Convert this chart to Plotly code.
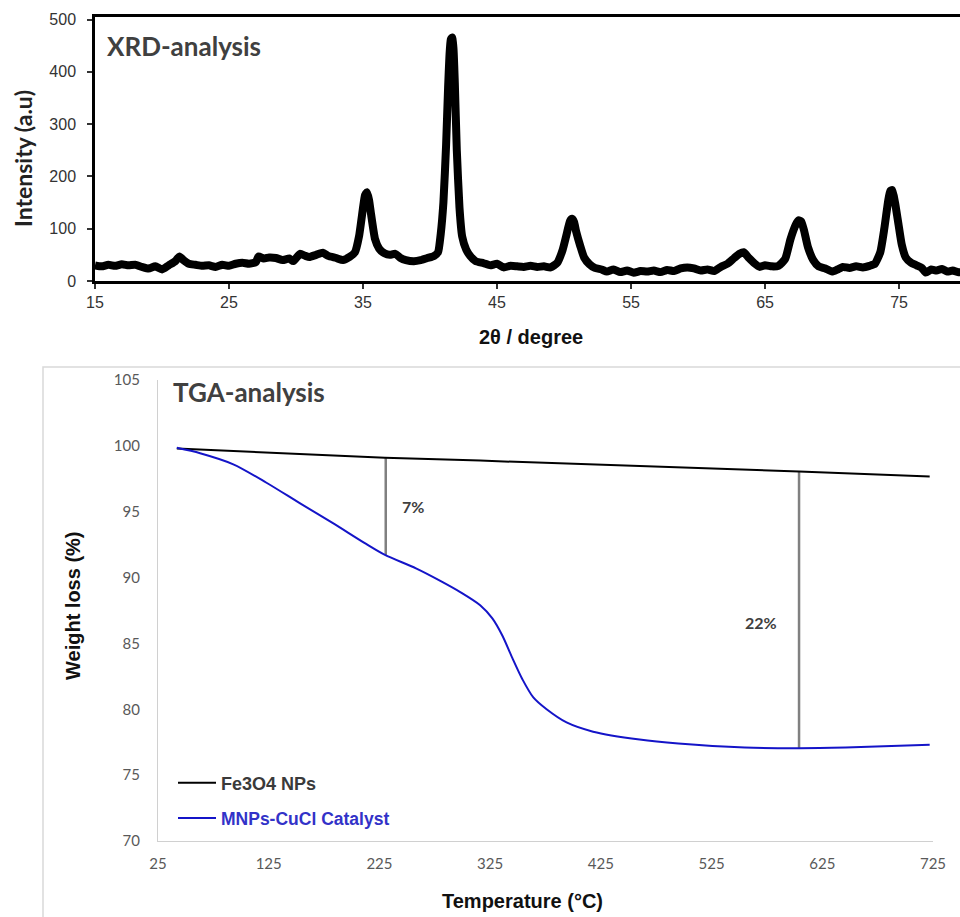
import plotly.graph_objects as go

# ---------------- XRD data ----------------
xrd_2theta = [15.0, 15.5, 16.0, 16.5, 17.0, 17.5, 18.0, 18.5, 19.0, 19.5, 20.0, 20.5, 21.0, 21.3, 21.6,
              22.0, 22.5, 23.0, 23.5, 24.0, 24.5, 25.0, 25.5, 26.0, 26.5, 27.0, 27.2, 27.6, 28.0, 28.5,
              29.0, 29.5, 29.8, 30.3, 30.7, 31.0, 31.5, 32.0, 32.4, 33.0, 33.5, 34.0, 34.4, 34.7, 35.0,
              35.15, 35.3, 35.45, 35.6, 35.9, 36.2, 36.6, 37.0, 37.4, 37.8, 38.2, 38.8, 39.3, 39.8, 40.3,
              40.6, 40.8, 41.0, 41.2, 41.35, 41.45, 41.55, 41.65, 41.75, 41.85, 42.0, 42.2, 42.4, 42.7,
              43.0, 43.4, 44.0, 44.5, 45.0, 45.5, 46.0, 46.5, 47.0, 47.5, 48.0, 48.5, 49.0, 49.5, 49.9,
              50.2, 50.45, 50.6, 50.75, 50.9, 51.2, 51.5, 51.9, 52.3, 52.8, 53.2, 53.7, 54.2, 54.7, 55.2,
              55.7, 56.2, 56.7, 57.2, 57.7, 58.2, 58.7, 59.2, 59.7, 60.2, 60.7, 61.2, 61.7, 62.2, 62.7,
              63.1, 63.4, 63.8, 64.2, 64.6, 65.0, 65.5, 66.0, 66.5, 66.9, 67.3, 67.5, 67.7, 67.9, 68.2,
              68.6, 69.0, 69.5, 70.0, 70.4, 70.8, 71.3, 71.8, 72.3, 72.8, 73.2, 73.6, 73.9, 74.2, 74.35,
              74.5, 74.7, 74.95, 75.2, 75.5, 75.9, 76.3, 76.7, 77.0, 77.4, 77.8, 78.2, 78.6, 79.0, 79.4,
              79.8]
xrd_intensity = [30, 28, 31, 29, 32, 30, 31, 27, 24, 28, 22, 30, 38, 47, 40,
                 33, 31, 29, 30, 27, 31, 29, 33, 35, 33, 36, 47, 43, 45, 44,
                 40, 43, 38, 52, 48, 46, 50, 54, 48, 44, 40, 46, 55, 85, 140,
                 164, 170, 155, 128, 80, 62, 53, 50, 52, 44, 40, 38, 40, 44, 48,
                 55, 90, 150, 260, 370, 430, 462, 466, 445, 380, 250, 140, 85, 60,
                 48, 38, 34, 30, 33, 26, 29, 28, 27, 29, 27, 28, 26, 35, 60,
                 90, 115, 119, 113, 95, 68, 45, 32, 25, 22, 18, 22, 17, 20, 16,
                 19, 18, 20, 17, 21, 19, 24, 26, 24, 20, 22, 19, 27, 33, 44,
                 52, 55, 44, 34, 27, 30, 28, 29, 42, 80, 108, 116, 114, 98, 65,
                 40, 28, 24, 18, 22, 27, 25, 28, 26, 29, 33, 55, 100, 155, 172,
                 174, 150, 110, 70, 45, 35, 30, 25, 16, 22, 20, 23, 18, 20, 17,
                 16]
xrd_xticks = [15, 25, 35, 45, 55, 65, 75]
xrd_yticks = [0, 100, 200, 300, 400, 500]

# ---------------- TGA data ----------------
fe3o4_T = [42, 230, 316, 460, 604, 722]
fe3o4_w = [99.8, 99.1, 98.88, 98.48, 98.05, 97.67]

cat_T = [42, 63, 93, 123, 153, 183, 213, 230, 258, 280, 298, 316, 327, 336, 345, 354, 364, 376,
         394, 418, 460, 495, 555, 604, 646, 722]
cat_w = [99.85, 99.44, 98.6, 97.2, 95.65, 94.13, 92.55, 91.72, 90.7, 89.75, 88.9, 87.9, 86.9, 85.6,
         83.9, 82.3, 80.9, 80.0, 79.0, 78.3, 77.7, 77.4, 77.1, 77.05, 77.1, 77.3]

drop_T = [230.7, 604]
drop_top = [99.1, 98.05]
drop_bottom = [91.72, 77.0]
drop_labels = ["7%", "22%"]
drop_label_T = [255, 570]
drop_label_w = [95.4, 86.6]

tga_xticks = [25, 125, 225, 325, 425, 525, 625, 725]
tga_yticks = [70, 75, 80, 85, 90, 95, 100, 105]

W, H = 960, 917


def px_x(p):
    return p / W


def px_y(p):
    return (H - p) / H


fig = go.Figure()

# XRD trace
fig.add_trace(go.Scatter(
    x=xrd_2theta, y=xrd_intensity, mode="lines",
    line=dict(color="black", width=8, shape="spline", smoothing=0.5), xaxis="x", yaxis="y",
    showlegend=False, hoverinfo="skip"))

# TGA drop lines
dl_x, dl_y = [], []
for t, a, b in zip(drop_T, drop_top, drop_bottom):
    dl_x += [t, t, None]
    dl_y += [a, b, None]
fig.add_trace(go.Scatter(
    x=dl_x, y=dl_y, mode="lines", line=dict(color="#808080", width=2.5),
    xaxis="x2", yaxis="y2", showlegend=False, hoverinfo="skip"))

fig.add_trace(go.Scatter(
    x=fe3o4_T, y=fe3o4_w, mode="lines", line=dict(color="black", width=2),
    name="<span style='color:#3a3a3a'>Fe3O4 NPs</span>",
    xaxis="x2", yaxis="y2", legend="legend"))
fig.add_trace(go.Scatter(
    x=cat_T, y=cat_w, mode="lines", line=dict(color="#1414c8", width=2, shape="spline", smoothing=0.8),
    name="<span style='color:#3232c8'>MNPs-CuCl Catalyst</span>",
    xaxis="x2", yaxis="y2", legend="legend2"))

annotations = [
    dict(text="<b>XRD-analysis</b>", x=px_x(105), y=px_y(46), xref="paper", yref="paper",
         xanchor="left", yanchor="middle", showarrow=False,
         font=dict(family="Lato", size=26, color="#404040")),
    dict(text="<b>TGA-analysis</b>", x=px_x(171), y=px_y(392), xref="paper", yref="paper",
         xanchor="left", yanchor="middle", showarrow=False,
         font=dict(family="Lato", size=26, color="#404040")),
    dict(text="<b>2θ / degree</b>", x=px_x(531), y=px_y(337), xref="paper", yref="paper",
         xanchor="center", yanchor="middle", showarrow=False,
         font=dict(family="Liberation Sans", size=20, color="#111111")),
    dict(text="<b>Intensity (a.u)</b>", x=px_x(23), y=px_y(159), xref="paper", yref="paper",
         xanchor="center", yanchor="middle", showarrow=False, textangle=-90,
         font=dict(family="Lato", size=23, color="#222222")),
    dict(text="<b>Temperature (°C)</b>", x=px_x(522), y=px_y(901), xref="paper", yref="paper",
         xanchor="center", yanchor="middle", showarrow=False,
         font=dict(family="Liberation Sans", size=20, color="#111111")),
    dict(text="<b>Weight loss (%)</b>", x=px_x(73), y=px_y(606), xref="paper", yref="paper",
         xanchor="center", yanchor="middle", showarrow=False, textangle=-90,
         font=dict(family="Liberation Sans", size=20, color="#111111")),
]
for lab, t, w in zip(drop_labels, drop_label_T, drop_label_w):
    annotations.append(dict(text="<b>%s</b>" % lab, x=t, y=w, xref="x2", yref="y2",
                            showarrow=False, xanchor="center", yanchor="middle",
                            font=dict(family="Lato", size=16, color="#404040")))

shapes = [
    dict(type="rect", xref="paper", yref="paper", x0=px_x(43), x1=1.02, y0=-0.02, y1=px_y(367),
         line=dict(color="#d9d9d9", width=1.5), fillcolor="rgba(0,0,0,0)", layer="below"),
]

fig.update_layout(
    width=W, height=H,
    margin=dict(l=0, r=0, t=0, b=0, autoexpand=False),
    paper_bgcolor="white", plot_bgcolor="white",
    annotations=annotations, shapes=shapes,
    xaxis=dict(domain=[px_x(95), 1.0], range=[15, 79.55], tickvals=xrd_xticks,
               showline=True, linecolor="black", linewidth=2.5, mirror=True,
               ticks="outside", ticklen=5, tickwidth=1.5, tickcolor="#333",
               showgrid=False, zeroline=False, automargin=False,
               tickfont=dict(family="Liberation Sans", size=16, color="#333333"),
               anchor="y"),
    yaxis=dict(domain=[px_y(281), px_y(17)], range=[0, 505], tickvals=xrd_yticks,
               showline=True, linecolor="black", linewidth=2.5, mirror=False,
               ticks="outside", ticklen=5, tickwidth=1.5, tickcolor="#333",
               showgrid=False, zeroline=False, automargin=False,
               tickfont=dict(family="Liberation Sans", size=16, color="#333333"),
               ticklabelstandoff=8,
               anchor="x"),
    xaxis2=dict(domain=[px_x(158), px_x(933)], range=[25, 725], tickvals=tga_xticks,
                showline=True, linecolor="#d0d0d0", linewidth=1.2,
                ticks="", showgrid=False, zeroline=False, automargin=False,
                tickfont=dict(family="Lato", size=15, color="#595959"),
                ticklabelstandoff=9,
                anchor="y2"),
    yaxis2=dict(domain=[px_y(841), px_y(380)], range=[70, 105], tickvals=tga_yticks,
                showline=True, linecolor="#d0d0d0", linewidth=1.2,
                ticks="", showgrid=False, zeroline=False, automargin=False,
                tickfont=dict(family="Lato", size=15, color="#595959"),
                ticklabelstandoff=14,
                anchor="x2"),
    legend=dict(x=px_x(173), y=px_y(783), xanchor="left", yanchor="middle",
                bgcolor="rgba(0,0,0,0)", borderwidth=0, itemwidth=38,
                font=dict(family="Liberation Sans", size=18, weight="bold")),
    legend2=dict(x=px_x(173), y=px_y(818), xanchor="left", yanchor="middle",
                 bgcolor="rgba(0,0,0,0)", borderwidth=0, itemwidth=38,
                 font=dict(family="Liberation Sans", size=17.5, weight="bold")),
)

fig.write_html("out.html", config={"displayModeBar": False},
               post_script="document.body.style.margin='0';document.body.style.overflow='hidden';")
